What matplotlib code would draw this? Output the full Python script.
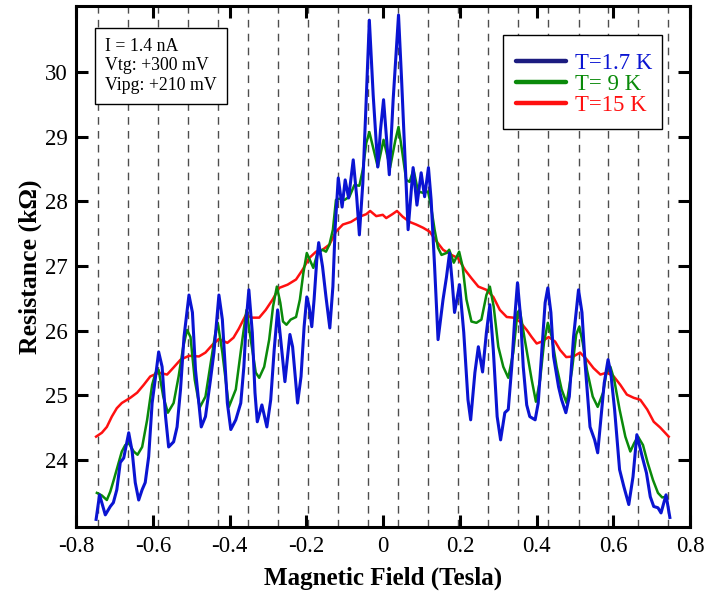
import matplotlib
matplotlib.use("Agg")
import matplotlib.pyplot as plt
from matplotlib.lines import Line2D
from matplotlib.patches import Rectangle

plt.rcParams['font.family'] = ['Liberation Serif', 'DejaVu Serif']
plt.rcParams['axes.unicode_minus'] = False

# T = 1.7 K
b_field_1 = [-0.748, -0.739, -0.724, -0.711, -0.703, -0.694, -0.685, -0.676, -0.663, -0.654,
             -0.646, -0.637, -0.628, -0.620, -0.611, -0.602, -0.593, -0.585, -0.576, -0.567,
             -0.559, -0.546, -0.537, -0.528, -0.519, -0.506, -0.497, -0.489, -0.474, -0.463,
             -0.450, -0.441, -0.428, -0.419, -0.406, -0.397, -0.384, -0.371, -0.363, -0.356,
             -0.350, -0.341, -0.334, -0.328, -0.316, -0.303, -0.293, -0.284, -0.275, -0.267,
             -0.256, -0.243, -0.236, -0.223, -0.214, -0.206, -0.199, -0.193, -0.186, -0.180,
             -0.173, -0.168, -0.158, -0.149, -0.139, -0.131, -0.125, -0.117, -0.107, -0.099,
             -0.090, -0.078, -0.069, -0.062, -0.053, -0.046, -0.036, -0.026, -0.014, -0.007,
             0.001, 0.009, 0.016, 0.026, 0.040, 0.048, 0.056, 0.065, 0.078, 0.088,
             0.099, 0.108, 0.118, 0.125, 0.134, 0.143, 0.156, 0.165, 0.173, 0.180,
             0.186, 0.199, 0.210, 0.221, 0.228, 0.239, 0.248, 0.259, 0.269, 0.278,
             0.287, 0.297, 0.306, 0.317, 0.326, 0.335, 0.343, 0.350, 0.358, 0.365,
             0.374, 0.382, 0.396, 0.404, 0.413, 0.422, 0.429, 0.437, 0.444, 0.457,
             0.465, 0.476, 0.485, 0.496, 0.509, 0.518, 0.526, 0.539, 0.551, 0.559,
             0.567, 0.576, 0.586, 0.593, 0.603, 0.616, 0.627, 0.640, 0.651, 0.661,
             0.675, 0.686, 0.696, 0.705, 0.716, 0.724, 0.737, 0.747]
r_1 = [23.08, 23.46, 23.15, 23.28, 23.34, 23.54, 23.96, 24.03, 24.42, 24.13,
       23.65, 23.38, 23.54, 23.65, 24.05, 24.88, 25.29, 25.67, 25.44, 24.67,
       24.20, 24.28, 24.51, 25.09, 25.90, 26.55, 26.28, 25.39, 24.51, 24.67,
       25.24, 25.66, 26.55, 26.17, 24.88, 24.47, 24.62, 24.88, 25.44, 26.21,
       26.63, 25.97, 25.04, 24.59, 24.85, 24.51, 24.93, 25.70, 26.32, 25.86,
       25.21, 25.94, 25.75, 24.88, 25.29, 26.06, 26.52, 26.37, 26.06, 26.48,
       27.09, 27.36, 26.99, 26.52, 26.04, 26.68, 27.60, 28.36, 27.91, 28.33,
       28.05, 28.64, 28.07, 27.48, 28.28, 29.30, 30.80, 29.64, 28.53, 29.10,
       29.57, 28.95, 28.41, 29.57, 30.88, 29.88, 28.79, 27.56, 28.52, 27.94,
       28.44, 28.07, 28.52, 28.02, 26.99, 25.86, 26.48, 26.83, 27.20, 26.74,
       26.28, 26.71, 25.97, 24.93, 24.62, 25.35, 25.75, 25.36, 25.97, 26.40,
       25.70, 24.67, 24.31, 24.73, 24.78, 25.44, 26.21, 26.74, 26.21, 25.44,
       24.85, 24.67, 24.62, 24.88, 25.66, 26.43, 26.66, 26.28, 25.60, 25.13,
       24.93, 24.73, 24.98, 25.90, 26.63, 26.28, 25.50, 24.51, 24.31, 24.11,
       24.62, 25.19, 25.55, 25.35, 24.78, 23.85, 23.59, 23.31, 23.74, 24.39,
       24.05, 23.80, 23.43, 23.28, 23.26, 23.18, 23.46, 23.11]

# T = 9 K
b_field_9 = [-0.746, -0.733, -0.720, -0.711, -0.702, -0.689, -0.681, -0.672, -0.663, -0.650,
             -0.640, -0.628, -0.615, -0.602, -0.593, -0.585, -0.573, -0.561, -0.546, -0.533,
             -0.521, -0.511, -0.502, -0.491, -0.478, -0.463, -0.448, -0.437, -0.431, -0.419,
             -0.402, -0.384, -0.367, -0.356, -0.345, -0.332, -0.323, -0.310, -0.297, -0.287,
             -0.277, -0.268, -0.261, -0.252, -0.241, -0.227, -0.217, -0.208, -0.199, -0.191,
             -0.182, -0.171, -0.158, -0.149, -0.140, -0.131, -0.123, -0.114, -0.101, -0.088,
             -0.075, -0.062, -0.053, -0.044, -0.036, -0.023, -0.014, -0.003, 0.001, 0.018,
             0.032, 0.040, 0.050, 0.060, 0.069, 0.079, 0.091, 0.104, 0.117, 0.125,
             0.134, 0.143, 0.152, 0.165, 0.172, 0.184, 0.198, 0.207, 0.217, 0.230,
             0.243, 0.256, 0.269, 0.278, 0.288, 0.300, 0.313, 0.326, 0.339, 0.350,
             0.356, 0.369, 0.387, 0.398, 0.409, 0.419, 0.429, 0.439, 0.452, 0.465,
             0.478, 0.492, 0.503, 0.511, 0.520, 0.531, 0.546, 0.559, 0.573, 0.583,
             0.592, 0.602, 0.616, 0.631, 0.644, 0.654, 0.664, 0.677, 0.689, 0.703,
             0.716, 0.727, 0.738]
r_9 = [23.49, 23.45, 23.38, 23.51, 23.69, 23.96, 24.13, 24.23, 24.26, 24.13,
       24.08, 24.20, 24.62, 25.16, 25.35, 25.39, 24.98, 24.73, 24.88, 25.29,
       25.75, 26.01, 25.90, 25.24, 24.81, 24.98, 25.55, 25.97, 26.12, 25.66,
       24.82, 25.09, 25.86, 26.32, 25.86, 25.35, 25.27, 25.44, 25.86, 26.37,
       26.68, 26.43, 26.14, 26.09, 26.17, 26.21, 26.48, 26.89, 27.20, 27.09,
       26.97, 27.20, 27.25, 27.22, 27.33, 27.56, 28.02, 28.04, 28.02, 28.07,
       28.25, 28.24, 28.49, 28.90, 29.07, 28.75, 28.53, 28.84, 28.95, 28.52,
       28.95, 29.15, 28.75, 28.33, 28.30, 28.49, 28.15, 28.13, 28.15, 27.91,
       27.56, 27.28, 27.17, 27.20, 27.25, 27.05, 27.22, 26.99, 26.48, 26.14,
       26.12, 26.17, 26.55, 26.68, 26.37, 25.75, 25.44, 25.27, 25.66, 26.28,
       26.32, 25.86, 25.24, 24.90, 25.24, 25.81, 26.12, 25.91, 25.44, 25.09,
       24.88, 25.39, 25.94, 26.06, 25.81, 25.39, 24.98, 24.82, 25.04, 25.39,
       25.44, 25.24, 24.78, 24.36, 24.13, 24.26, 24.36, 24.23, 23.96, 23.69,
       23.49, 23.42, 23.43]

# T = 15 K
b_field_15 = [-0.748, -0.733, -0.720, -0.707, -0.694, -0.681, -0.659, -0.641, -0.624, -0.607,
              -0.585, -0.563, -0.546, -0.528, -0.506, -0.480, -0.463, -0.445, -0.428, -0.406,
              -0.390, -0.376, -0.358, -0.341, -0.323, -0.306, -0.288, -0.271, -0.249, -0.227,
              -0.210, -0.193, -0.175, -0.158, -0.140, -0.123, -0.105, -0.084, -0.062, -0.044,
              -0.034, -0.018, -0.001, 0.008, 0.024, 0.036, 0.051, 0.069, 0.086, 0.104,
              0.121, 0.139, 0.156, 0.178, 0.195, 0.213, 0.230, 0.248, 0.269, 0.287,
              0.304, 0.322, 0.339, 0.356, 0.374, 0.387, 0.400, 0.413, 0.431, 0.448,
              0.461, 0.477, 0.496, 0.513, 0.531, 0.548, 0.566, 0.583, 0.601, 0.618,
              0.635, 0.653, 0.670, 0.688, 0.705, 0.722, 0.744]
r_15 = [24.36, 24.42, 24.51, 24.67, 24.80, 24.88, 24.96, 25.04, 25.16, 25.29,
        25.35, 25.32, 25.43, 25.55, 25.61, 25.60, 25.66, 25.78, 25.87, 25.81,
        25.89, 26.03, 26.24, 26.20, 26.20, 26.32, 26.48, 26.66, 26.71, 26.79,
        26.94, 27.12, 27.22, 27.25, 27.33, 27.53, 27.64, 27.68, 27.76, 27.80,
        27.85, 27.77, 27.79, 27.74, 27.80, 27.85, 27.76, 27.68, 27.64, 27.59,
        27.53, 27.38, 27.25, 27.17, 27.12, 26.94, 26.81, 26.68, 26.63, 26.52,
        26.32, 26.21, 26.20, 26.14, 26.01, 25.90, 25.80, 25.83, 25.90, 25.83,
        25.70, 25.59, 25.60, 25.66, 25.55, 25.42, 25.32, 25.35, 25.29, 25.16,
        25.01, 24.96, 24.93, 24.78, 24.59, 24.50, 24.36]

# dashed reference fields
ref_fields = [-0.743, -0.665, -0.587, -0.509, -0.430, -0.352, -0.274, -0.196, -0.117, -0.039,
              0.039, 0.117, 0.196, 0.274, 0.352, 0.430, 0.509, 0.587, 0.665, 0.743]

x_ticks = [-0.8, -0.6, -0.4, -0.2, 0, 0.2, 0.4, 0.6, 0.8]
x_tick_labels = ['-0.8', '-0.6', '-0.4', '-0.2', '0', '0.2', '0.4', '0.6', '0.8']
y_ticks = [24, 25, 26, 27, 28, 29, 30]

fig = plt.figure(figsize=(7.05, 5.95), dpi=100)
ax = fig.add_axes([0.108, 0.114, 0.871, 0.876])

for xf in ref_fields:
    ax.axvline(xf, color='0.3', lw=1.0, dashes=(5.5, 4.5), zorder=1)

ax.plot(b_field_15, r_15, color='#ff1010', lw=1.8, zorder=3)
ax.plot(b_field_9, r_9, color='#0a8a0a', lw=1.8, zorder=4)
ax.plot(b_field_1, r_1, color='#0a14d2', lw=2.2, zorder=5)

ax.set_xlim(-0.8, 0.8)
ax.set_ylim(22.96, 31.02)
ax.set_xticks(x_ticks)
ax.set_xticklabels(x_tick_labels)
ax.set_yticks(y_ticks)
ax.tick_params(direction='in', length=8.5, width=2.2, labelsize=16.5,
               top=True, right=True, pad=6)
for sp in ax.spines.values():
    sp.set_linewidth(2.2)

ax.set_xlabel('Magnetic Field (Tesla)', fontsize=18, fontweight='bold', labelpad=7)
ax.set_ylabel('Resistance (kΩ)', fontsize=18.5, fontweight='bold', labelpad=2)

ax.text(0.047, 0.939, 'I = 1.4 nA\nVtg: +300 mV\nVipg: +210 mV', transform=ax.transAxes,
        fontsize=12.8, va='top', ha='left', linespacing=1.2,
        bbox=dict(boxstyle='square,pad=0.55', fc='white', ec='black', lw=1.0), zorder=6)

# legend frame drawn as a box, legend itself frameless
ax.add_patch(Rectangle((0.6954, 0.7639), 0.259, 0.1804, transform=ax.transAxes,
                       fc='white', ec='black', lw=1.0, zorder=7))
handles = [Line2D([], [], color='#1c1c80', lw=3.2, solid_capstyle='round'),
           Line2D([], [], color='#0a8a0a', lw=3.2, solid_capstyle='round'),
           Line2D([], [], color='#ff1010', lw=3.2, solid_capstyle='round')]
labels = ['T=1.7 K', 'T= 9 K', 'T=15 K']
leg = ax.legend(handles, labels, loc='upper left', bbox_to_anchor=(0.7166, 0.9098),
                borderaxespad=0, borderpad=0, fontsize=16.4,
                labelcolor=['#0a14d2', '#0a8a0a', '#ff1010'], frameon=False,
                handlelength=2.2, handletextpad=0.4, labelspacing=0.0)
leg.set_zorder(8)

fig.savefig('out.png', dpi=100)
